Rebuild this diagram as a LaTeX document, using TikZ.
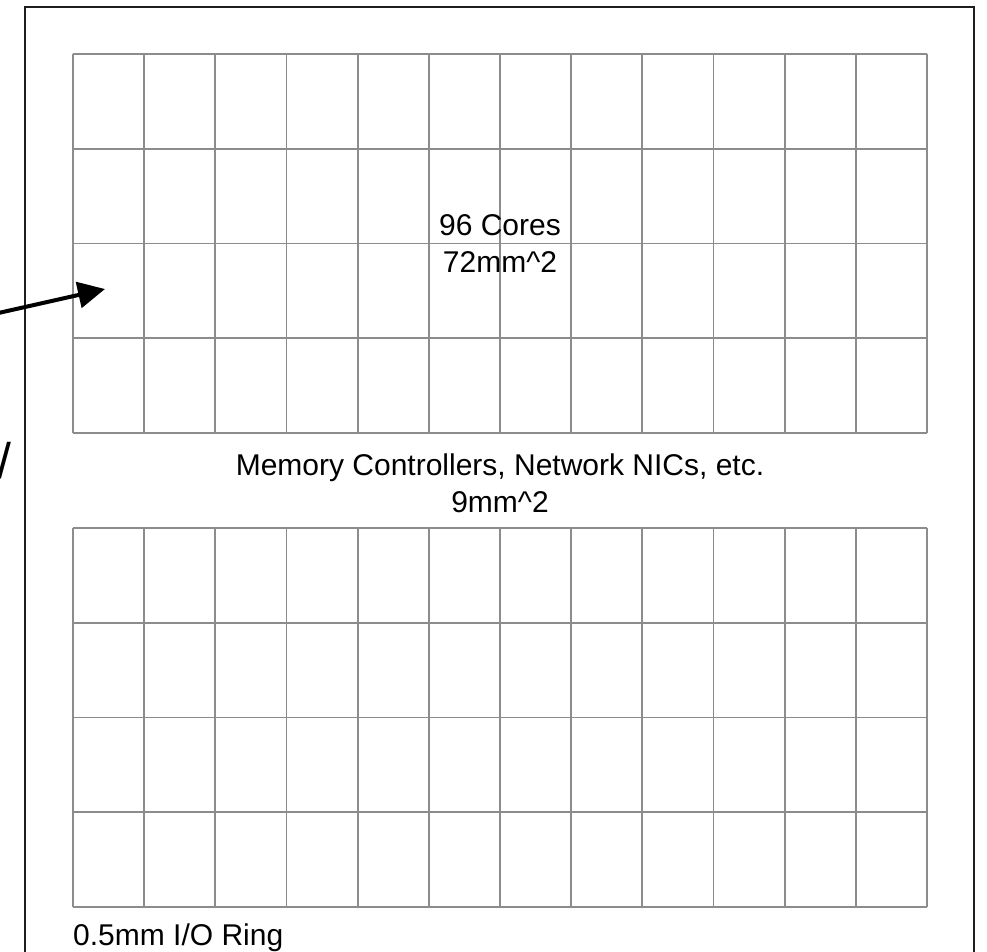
\documentclass[tikz,border=0pt]{standalone}
\usepackage{fontspec}
\setmainfont{Liberation Sans}
\usetikzlibrary{arrows.meta}
\definecolor{gridgray}{RGB}{140,140,140}
\definecolor{framegray}{RGB}{30,30,30}
\tikzset{
  cellline/.style={draw=gridgray, line width=1.7pt},
  frameline/.style={draw=framegray, line width=2pt},
  label/.style={inner sep=0pt, align=center, font=\fontsize{30}{37}\selectfont},
  pointer/.style={line width=4pt, -{Triangle[length=27pt,width=26pt]}}
}
\begin{document}
\begin{tikzpicture}[x=1pt, y=-1pt]
  \useasboundingbox (0,0) rectangle (987,952);
  \clip (0,0) rectangle (987,952);
  \fill[white] (0,0) rectangle (987,952);

  % die outline (runs past the lower edge)
  \draw[frameline] (25,7) rectangle (974,1000);

  % core arrays: 12 x 4 tiles each
  \foreach \top/\name in {54/upper, 528/lower} {
    \pgfmathsetmacro{\bot}{\top+379}
    \foreach \i in {0,...,12} {
      \pgfmathsetmacro{\xx}{73+\i*854/12}
      \draw[cellline] (\xx,\top) -- (\xx,\bot);
    }
    \foreach \j in {0,...,4} {
      \pgfmathsetmacro{\yy}{\top+\j*379/4}
      \draw[cellline] (73,\yy) -- (927,\yy);
    }
  }

  \node[label] (cores) at (500,243.5) {96 Cores\\72mm\textasciicircum2};
  \node[label] (uncore) at (500,483) {Memory Controllers, Network NICs, etc.\\9mm\textasciicircum2};
  \node[label, anchor=base west] (ioring) at (73,945) {0.5mm I/O Ring};

  % partly visible mark on the left margin
  \node[inner sep=0pt, anchor=base west, font=\fontsize{50}{60}\selectfont] (slash) at (-3,478) {/};

  % pointer into the first core
  \coordinate (tail) at (-6,314);
  \coordinate (tip) at (105,289);
  \draw[pointer] (tail) -- (tip);
\end{tikzpicture}
\end{document}
